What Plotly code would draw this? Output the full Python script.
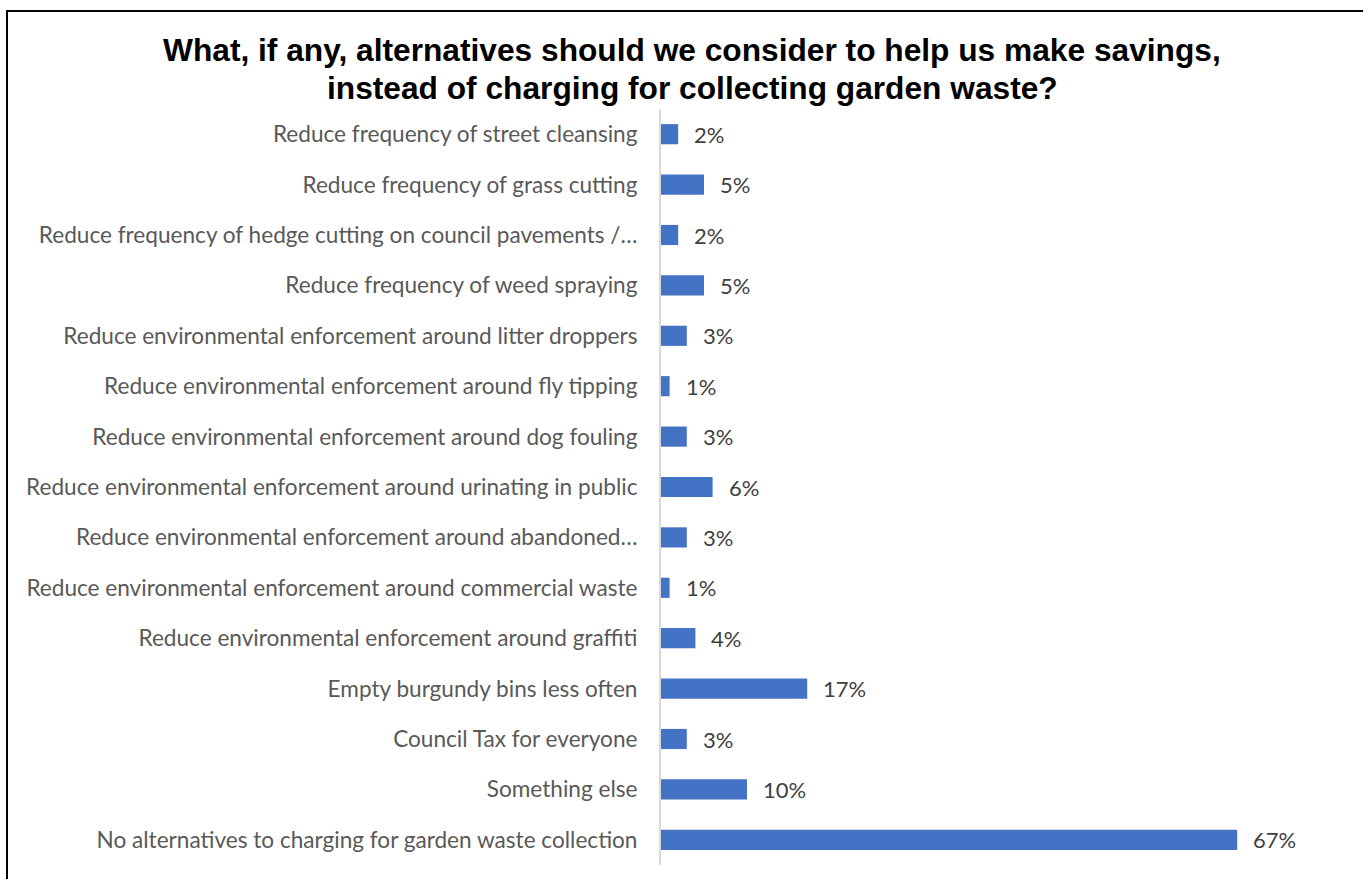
import plotly.graph_objects as go

categories = [
    "Reduce frequency of street cleansing",
    "Reduce frequency of grass cutting",
    "Reduce frequency of hedge cutting on council pavements /…",
    "Reduce frequency of weed spraying",
    "Reduce environmental enforcement around litter droppers",
    "Reduce environmental enforcement around fly tipping",
    "Reduce environmental enforcement around dog fouling",
    "Reduce environmental enforcement around urinating in public",
    "Reduce environmental enforcement around abandoned…",
    "Reduce environmental enforcement around commercial waste",
    "Reduce environmental enforcement around graffiti",
    "Empty burgundy bins less often",
    "Council Tax for everyone",
    "Something else",
    "No alternatives to charging for garden waste collection",
]
values = [2, 5, 2, 5, 3, 1, 3, 6, 3, 1, 4, 17, 3, 10, 67]
value_labels = [f"{v}%" for v in values]
title_lines = [
    "What, if any, alternatives should we consider to help us make savings,",
    "instead of charging for collecting garden waste?",
]

W, H = 1363, 879
L, R, T, B = 661, 14, 109, 14
pw = W - L - R
ph = H - T - B

def px_x(x):
    return (x - L) / pw

def px_y(y):
    return (H - B - y) / ph

fig = go.Figure()
fig.add_trace(go.Bar(
    x=values, y=categories, orientation="h",
    marker=dict(color="#4472C4", line=dict(width=0)),
    width=0.4, hoverinfo="x+y",
))

for c, v, t in zip(categories, values, value_labels):
    fig.add_annotation(x=v, y=c, text=t, showarrow=False, xanchor="left",
                       xshift=14, font=dict(family="Lato", size=22, color="#404040"))

for line, ypix in zip(title_lines, [50, 88]):
    fig.add_annotation(xref="paper", yref="paper", x=px_x(692), y=px_y(ypix),
                       text=f"<b>{line}</b>", showarrow=False,
                       xanchor="center", yanchor="middle",
                       font=dict(family="Liberation Sans", size=31.7, color="black"))

# border (top and left)
xl = px_x(7)
yt = px_y(11)
fig.add_shape(type="path", xref="paper", yref="paper",
              path=f"M {xl} -0.1 L {xl} {yt} L 1.1 {yt}",
              line=dict(color="black", width=2))

fig.update_layout(
    width=W, height=H,
    margin=dict(l=L, r=R, t=T, b=B),
    paper_bgcolor="white", plot_bgcolor="white",
    showlegend=False,
    xaxis=dict(range=[0, 80], visible=False, fixedrange=True),
    yaxis=dict(autorange="reversed", showline=True, linecolor="#d9d9d9", linewidth=2,
               showgrid=False, ticks="", ticklabelstandoff=17, fixedrange=True,
               tickfont=dict(family="Lato", size=22.6, color="#595959")),
)

fig.write_html("out.html", config={"displayModeBar": False},
               post_script="document.body.style.margin='0';")
